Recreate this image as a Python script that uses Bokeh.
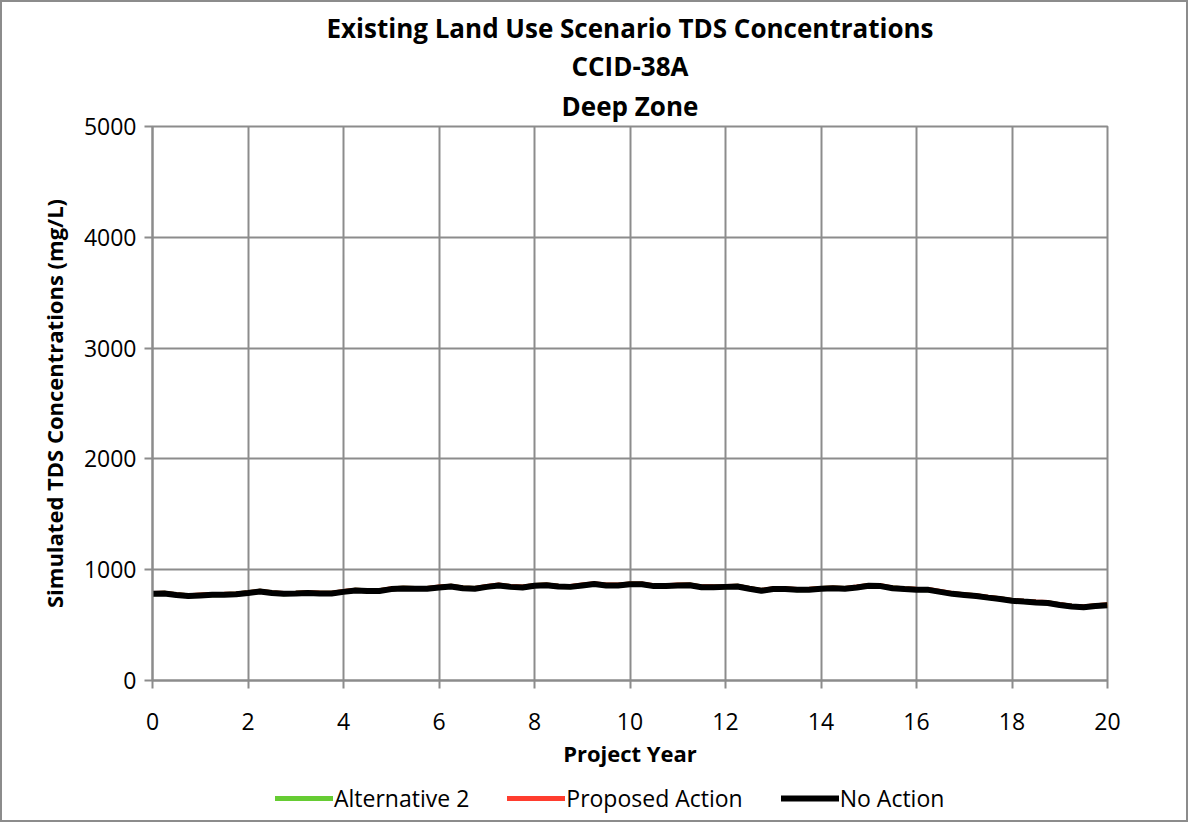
from bokeh.plotting import figure
from bokeh.models import Title, Legend, LegendItem, FixedTicker, Range1d
from bokeh.layouts import column
from bokeh.embed import file_html
from bokeh.resources import INLINE

years = [i * 0.25 for i in range(81)]
no_action = [782, 785, 772, 762, 768, 773, 775, 778, 790, 803, 790, 782, 785, 790, 786, 785,
             800, 812, 808, 808, 825, 830, 828, 828, 840, 848, 832, 828, 845, 858, 845, 840,
             855, 860, 848, 845, 858, 870, 858, 858, 868, 868, 852, 852, 858, 860, 842, 842,
             845, 848, 828, 810, 825, 825, 818, 820, 828, 832, 828, 840, 855, 852, 832, 825,
             820, 818, 800, 782, 772, 762, 748, 735, 720, 712, 705, 700, 682, 668, 662, 672, 680]
proposed = [785, 788, 775, 765, 771, 776, 778, 781, 793, 806, 793, 785, 788, 793, 789, 788,
            803, 815, 811, 811, 828, 833, 831, 831, 843, 851, 835, 831, 848, 861, 848, 843,
            858, 863, 851, 848, 861, 873, 861, 861, 871, 871, 855, 855, 861, 863, 845, 845,
            848, 851, 831, 813, 828, 828, 821, 823, 831, 835, 831, 843, 858, 855, 835, 828,
            823, 821, 803, 785, 775, 765, 751, 738, 723, 715, 708, 703, 685, 671, 665, 675, 684]
alternative2 = [784, 787, 774, 764, 770, 775, 777, 780, 792, 805, 792, 784, 787, 792, 788, 787,
                802, 814, 810, 810, 827, 832, 830, 830, 842, 850, 834, 830, 847, 860, 847, 842,
                857, 862, 850, 847, 860, 872, 860, 860, 870, 870, 854, 854, 860, 862, 844, 844,
                847, 850, 830, 812, 827, 827, 820, 822, 830, 834, 830, 842, 857, 854, 834, 827,
                822, 820, 802, 784, 774, 764, 750, 737, 722, 714, 707, 702, 684, 670, 664, 674, 682]

series_names = ["Alternative 2", "Proposed Action", "No Action"]
series_colors = ["#66cc33", "#ff3d2e", "black"]
series_widths = [5, 5, 6]
series_values = [alternative2, proposed, no_action]

x_ticks = list(range(0, 21, 2))
y_ticks = [0, 1000, 2000, 3000, 4000, 5000]

FONT = "Open Sans"
GRID = "#8c8c8c"

p = figure(frame_width=955, frame_height=554,
           output_backend="svg", toolbar_location=None,
           x_range=Range1d(0, 20), y_range=Range1d(0, 5000),
           min_border_left=150, min_border_right=79, min_border_top=124, min_border_bottom=92)

for txt, so in [("Deep Zone", 5), ("CCID-38A", 0), ("Existing Land Use Scenario TDS Concentrations", 0)]:
    p.add_layout(Title(text=txt, align="center", text_font=FONT, text_font_size="26px",
                       text_font_style="bold", text_color="black", standoff=so), "above")

for vals, col, lw in zip(series_values, series_colors, series_widths):
    p.line(years, vals, line_color=col, line_width=lw)

p.xaxis.ticker = FixedTicker(ticks=x_ticks)
p.yaxis.ticker = FixedTicker(ticks=y_ticks)
for ax in (p.xaxis[0], p.yaxis[0]):
    ax.axis_line_color = GRID
    ax.axis_line_width = 2
    ax.major_tick_line_color = GRID
    ax.major_tick_line_width = 2
    ax.major_tick_out = 8
    ax.major_tick_in = 0
    ax.minor_tick_line_color = None
    ax.major_label_text_font = FONT
    ax.major_label_text_font_size = "23px"
    ax.major_label_text_color = "black"
    ax.axis_label_text_font = FONT
    ax.axis_label_text_font_size = "22px"
    ax.axis_label_text_font_style = "bold"
    ax.axis_label_text_color = "black"
p.xaxis.axis_label = "Project Year"
p.yaxis.axis_label = "Simulated TDS Concentrations (mg/L)"
p.xaxis.major_label_standoff = 24
p.yaxis.major_label_standoff = 8
p.xaxis.axis_label_standoff = 5
p.yaxis.axis_label_standoff = 12

p.xgrid.grid_line_color = GRID
p.ygrid.grid_line_color = GRID
p.xgrid.grid_line_width = 2
p.ygrid.grid_line_width = 2
p.xgrid.ticker = FixedTicker(ticks=x_ticks)
p.ygrid.ticker = FixedTicker(ticks=y_ticks)
p.outline_line_color = GRID
p.outline_line_width = 2

# legend strip: same series, drawn outside its (empty) visible range so only the legend shows
pl = figure(frame_width=1184, frame_height=48, output_backend="svg", toolbar_location=None,
            x_range=Range1d(0, 20), y_range=Range1d(-2, -1),
            min_border_left=0, min_border_right=0, min_border_top=0, min_border_bottom=0)
pl.axis.visible = False
pl.grid.visible = False
pl.outline_line_color = None
items = []
for name, vals, col, lw in zip(series_names, series_values, series_colors, series_widths):
    r = pl.line(years, vals, line_color=col, line_width=lw, line_cap="round")
    items.append(LegendItem(label=name, renderers=[r]))

legend = Legend(items=items, orientation="horizontal", location=(273, 6),
                label_text_font=FONT, label_text_font_size="23px", label_text_color="black",
                glyph_width=58, glyph_height=24, spacing=38, label_standoff=1,
                border_line_color=None, background_fill_alpha=0, margin=0, padding=0)
pl.add_layout(legend, "center")

layout = column(p, pl, spacing=0)
layout.styles = {"border": "2px solid #8c8c8c"}

open("out.html", "w").write(file_html(layout, INLINE))
